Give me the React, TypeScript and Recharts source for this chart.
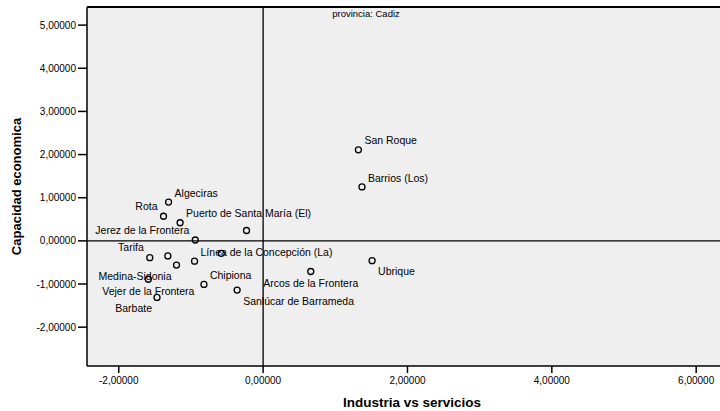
import {
  ScatterChart,
  Scatter,
  XAxis,
  YAxis,
  ReferenceLine,
  ReferenceArea,
  Label,
} from "recharts";

const FONT = '"Liberation Sans", Arial, sans-serif';

const municipios = [
  "Algeciras",
  "Rota",
  "Puerto de Santa María (El)",
  "",
  "Jerez de la Frontera",
  "",
  "Tarifa",
  "",
  "Medina-Sidonia",
  "Línea de la Concepción (La)",
  "Vejer de la Frontera",
  "Chipiona",
  "Sanlúcar de Barrameda",
  "Barbate",
  "Arcos de la Frontera",
  "Ubrique",
  "Barrios (Los)",
  "San Roque",
];
const industriaServicios = [
  -1.31, -1.38, -1.15, -0.23, -0.94, -0.58, -1.57, -1.32, -1.2, -0.95, -1.59,
  -0.82, -0.36, -1.47, 0.66, 1.51, 1.37, 1.32,
];
const capacidadEconomica = [
  0.9, 0.57, 0.42, 0.24, 0.02, -0.29, -0.39, -0.35, -0.56, -0.47, -0.89, -1.01,
  -1.14, -1.31, -0.71, -0.46, 1.25, 2.11,
];
// where each label sits around its point (ur = upper right, ll = lower left, b = below)
const labelSide = [
  "ur", "ul", "ur", "", "ul", "", "ul", "", "ll", "ur", "b", "ur", "lr", "ll",
  "b", "lr", "ur", "ur",
];

const xTicks = [-2, 0, 2, 4, 6];
const yTicks = [-2, -1, 0, 1, 2, 3, 4, 5];
const X_MIN = -2.44;
const X_MAX = 6.33;
const Y_MIN = -2.9;
const Y_MAX = 5.42;

const sides: Record<string, { dx: number; dy: number; anchor: "start" | "end" | "middle" }> = {
  ur: { dx: 6, dy: -9, anchor: "start" },
  ul: { dx: -6, dy: -10, anchor: "end" },
  lr: { dx: 6, dy: 11, anchor: "start" },
  ll: { dx: -5, dy: 11, anchor: "end" },
  b: { dx: 0, dy: 12, anchor: "middle" },
};

const data = municipios.map((name, i) => ({
  name,
  x: industriaServicios[i],
  y: capacidadEconomica[i],
  side: labelSide[i],
}));

const fmt = (v: number) => v.toFixed(5).replace(".", ",");

function Punto(props: any) {
  const { cx, cy, payload } = props;
  const s = sides[payload.side];
  return (
    <g>
      <circle cx={cx} cy={cy} r={3} fill="none" stroke="#000" strokeWidth={1.3} />
      {payload.name && s && (
        <text
          x={cx + s.dx}
          y={cy + s.dy}
          dy="0.35em"
          textAnchor={s.anchor}
          fontSize={10.5}
          fontFamily={FONT}
          fill="#000"
        >
          {payload.name}
        </text>
      )}
    </g>
  );
}

export default function App() {
  return (
    <div style={{ position: "absolute", left: 0, top: 0, background: "#fff" }}>
      <ScatterChart
        width={720}
        height={411}
        margin={{ top: 7, right: 0, bottom: 0, left: 0 }}
      >
        <ReferenceArea
          x1={X_MIN}
          x2={X_MAX}
          y1={Y_MIN}
          y2={Y_MAX}
          fill="#efefef"
          fillOpacity={1}
          stroke="none"
        />
        <XAxis
          type="number"
          dataKey="x"
          domain={[X_MIN, X_MAX]}
          ticks={xTicks}
          tickFormatter={fmt}
          height={45}
          allowDataOverflow
          stroke="#000"
          strokeWidth={1.5}
          tickSize={7}
          tickMargin={4}
          tick={{ fill: "#000", fontSize: 10, fontFamily: FONT }}
        >
          <Label
            content={({ viewBox }: any) => (
              <text
                x={viewBox.x + 325}
                y={viewBox.y + viewBox.height - 4}
                textAnchor="middle"
                fontSize={13.5}
                fontWeight="bold"
                fontFamily={FONT}
                fill="#000"
              >
                Industria vs servicios
              </text>
            )}
          />
        </XAxis>
        <YAxis
          type="number"
          dataKey="y"
          domain={[Y_MIN, Y_MAX]}
          ticks={yTicks}
          tickFormatter={fmt}
          width={87}
          allowDataOverflow
          stroke="#000"
          strokeWidth={1.5}
          tickSize={9}
          tickMargin={2}
          tick={{ fill: "#000", fontSize: 10, fontFamily: FONT }}
        >
          <Label
            content={({ viewBox }: any) => {
              const x = viewBox.x + 16;
              const y = viewBox.y + viewBox.height / 2;
              return (
                <text
                  x={x}
                  y={y}
                  transform={`rotate(-90 ${x} ${y})`}
                  textAnchor="middle"
                  dy="0.35em"
                  fontSize={13}
                  fontWeight="bold"
                  fontFamily={FONT}
                  fill="#000"
                >
                  Capacidad economica
                </text>
              );
            }}
          />
        </YAxis>
        <ReferenceLine y={Y_MAX} stroke="#000" strokeWidth={2}>
          <Label
            content={({ viewBox }: any) => (
              <text
                x={viewBox.x + 279}
                y={viewBox.y + 7}
                dy="0.35em"
                textAnchor="middle"
                fontSize={9.5}
                fontFamily={FONT}
                fill="#000"
              >
                provincia: Cadiz
              </text>
            )}
          />
        </ReferenceLine>
        <ReferenceLine x={0} stroke="#000" strokeWidth={1.3} />
        <ReferenceLine y={0} stroke="#000" strokeWidth={1.3} />
        <Scatter data={data} shape={<Punto />} isAnimationActive={false} />
      </ScatterChart>
    </div>
  );
}
